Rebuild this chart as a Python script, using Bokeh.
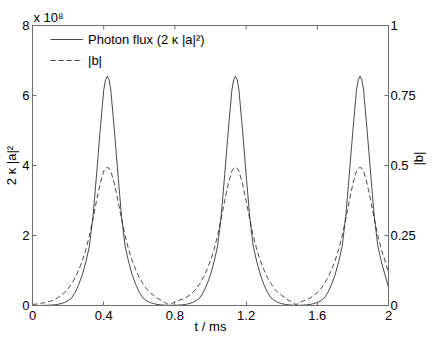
from math import pi
from bokeh.plotting import figure
from bokeh.models import (Range1d, LinearAxis, Legend, LegendItem,
                          FixedTicker, NumeralTickFormatter)
from bokeh.embed import file_html
from bokeh.resources import INLINE

# ---- data ----
t_ms = [0.00, 0.02, 0.04, 0.06, 0.08, 0.10, 0.12, 0.14, 0.16, 0.18,
        0.20, 0.22, 0.24, 0.26, 0.28, 0.30, 0.32, 0.34, 0.36, 0.38,
        0.40, 0.41, 0.42, 0.43, 0.44, 0.46, 0.48, 0.50, 0.52, 0.54,
        0.56, 0.58, 0.60, 0.62, 0.64, 0.66, 0.68, 0.70, 0.72, 0.74,
        0.76, 0.78, 0.80, 0.82, 0.84, 0.86, 0.88, 0.90, 0.92, 0.94,
        0.96, 0.98, 1.00, 1.02, 1.04, 1.06, 1.08, 1.10, 1.12, 1.13,
        1.14, 1.15, 1.16, 1.18, 1.20, 1.22, 1.24, 1.26, 1.28, 1.30,
        1.32, 1.34, 1.36, 1.38, 1.40, 1.42, 1.44, 1.46, 1.48, 1.50,
        1.52, 1.54, 1.56, 1.58, 1.60, 1.62, 1.64, 1.66, 1.68, 1.70,
        1.72, 1.74, 1.76, 1.78, 1.80, 1.82, 1.83, 1.84, 1.85, 1.86,
        1.88, 1.90, 1.92, 1.94, 1.96, 1.98, 2.00]

# photon flux 2*kappa*|a|^2 in units of 1e8
photon_flux_e8 = [0.0, 0.0, 0.001, 0.003, 0.006, 0.01, 0.018, 0.03, 0.055, 0.085,
                  0.14, 0.22, 0.38, 0.6, 0.88, 1.25, 1.7, 2.55, 3.75, 5.0,
                  6.15, 6.45, 6.55, 6.45, 6.15, 5.0, 3.75, 2.55, 1.7, 1.25,
                  0.88, 0.6, 0.38, 0.22, 0.14, 0.085, 0.055, 0.03, 0.018, 0.01,
                  0.006, 0.004, 0.006, 0.01, 0.018, 0.03, 0.055, 0.085, 0.14, 0.22,
                  0.38, 0.6, 0.88, 1.25, 1.7, 2.55, 3.75, 5.0, 6.15, 6.45,
                  6.55, 6.45, 6.15, 5.0, 3.75, 2.55, 1.7, 1.25, 0.88, 0.6,
                  0.38, 0.22, 0.14, 0.085, 0.055, 0.03, 0.018, 0.01, 0.006, 0.006,
                  0.01, 0.018, 0.03, 0.055, 0.085, 0.14, 0.22, 0.38, 0.6, 0.88,
                  1.25, 1.7, 2.55, 3.75, 5.0, 6.15, 6.45, 6.55, 6.45, 6.15,
                  5.0, 3.75, 2.55, 1.7, 1.25, 0.88, 0.52]

# |b|
b_abs = [0.004, 0.005, 0.007, 0.009, 0.012, 0.015, 0.02, 0.027, 0.036, 0.046,
         0.06, 0.078, 0.1, 0.128, 0.16, 0.2, 0.25, 0.31, 0.375, 0.435,
         0.48, 0.49, 0.493, 0.49, 0.48, 0.435, 0.375, 0.31, 0.25, 0.2,
         0.16, 0.128, 0.1, 0.078, 0.06, 0.046, 0.036, 0.027, 0.02, 0.013,
         0.005, 0.006, 0.013, 0.018, 0.022, 0.028, 0.036, 0.046, 0.06, 0.078,
         0.1, 0.128, 0.16, 0.2, 0.25, 0.31, 0.375, 0.435, 0.48, 0.49,
         0.493, 0.49, 0.48, 0.435, 0.375, 0.31, 0.25, 0.2, 0.16, 0.128,
         0.1, 0.078, 0.06, 0.046, 0.036, 0.027, 0.018, 0.012, 0.003, 0.01,
         0.016, 0.021, 0.027, 0.036, 0.046, 0.06, 0.078, 0.1, 0.128, 0.16,
         0.2, 0.25, 0.31, 0.375, 0.435, 0.48, 0.49, 0.493, 0.49, 0.48,
         0.435, 0.375, 0.31, 0.25, 0.2, 0.16, 0.118]

x_ticks = [0, 0.4, 0.8, 1.2, 1.6, 2]
left_ticks = [0, 2, 4, 6, 8]
right_ticks = [0, 0.25, 0.5, 0.75, 1]

legend_labels = ["Photon flux (2 \u03ba |a|\u00b2)", "|b|"]
x_label = "t / ms"
left_label = "2 \u03ba |a|\u00b2"
right_label = "|b|"
exponent_text = "x 10\u2078"

# ---- styling ----
FONT = "Liberation Sans"
AX = "#6e6e6e"
LINE = "#1a1a1a"
W, H = 436, 340

p = figure(width=W, height=H, x_range=Range1d(0, 2),
           y_range=Range1d(left_ticks[0], left_ticks[-1]),
           output_backend="svg", toolbar_location=None,
           min_border_left=32, min_border_right=W - 389,
           min_border_top=25, min_border_bottom=H - 305)
p.extra_y_ranges = {"b": Range1d(0, 1)}
p.xgrid.visible = False
p.ygrid.visible = False
p.outline_line_color = AX
p.outline_line_width = 1
p.background_fill_color = "white"
p.border_fill_color = "white"

p.title.text = exponent_text
p.title.align = "left"
p.title.offset = 1
p.title.standoff = 1
p.title.text_font = FONT
p.title.text_font_size = "13px"
p.title.text_font_style = "normal"
p.title.text_color = "black"


def style(ax, size="13px"):
    ax.axis_line_color = AX
    ax.major_tick_line_color = AX
    ax.major_tick_in = 4
    ax.major_tick_out = 0
    ax.minor_tick_line_color = None
    ax.major_label_text_font = FONT
    ax.major_label_text_font_size = size
    ax.major_label_text_color = "black"
    ax.major_label_standoff = 3
    ax.axis_label_text_font = FONT
    ax.axis_label_text_font_size = "13px"
    ax.axis_label_text_font_style = "normal"
    ax.axis_label_text_color = "black"


xa = p.xaxis[0]
xa.ticker = FixedTicker(ticks=x_ticks)
xa.formatter = NumeralTickFormatter(format="0.[00]")
style(xa)
xa.major_label_standoff = 5
xa.axis_label = x_label
xa.axis_label_standoff = -4

ya = p.yaxis[0]
ya.ticker = FixedTicker(ticks=left_ticks)
style(ya)
ya.axis_label = left_label
ya.axis_label_standoff = 0

ra = LinearAxis(y_range_name="b", ticker=FixedTicker(ticks=right_ticks),
                formatter=NumeralTickFormatter(format="0.[00]"))
style(ra)
ra.major_label_standoff = 2
ra.axis_label = right_label
ra.axis_label_standoff = 0
ra.axis_label_orientation = pi / 2
p.add_layout(ra, "right")

# inward ticks on the top edge (mirror of the bottom axis ticks)
p.scatter(x_ticks, [left_ticks[-1]] * len(x_ticks), marker="dash", angle=pi / 2,
          size=8, line_color=AX, line_width=1)

r1 = p.line(t_ms, photon_flux_e8, line_color=LINE, line_width=0.8)
r2 = p.line(t_ms, b_abs, y_range_name="b", line_color=LINE, line_width=0.8,
            line_dash="5 3")

leg = Legend(items=[LegendItem(label=legend_labels[0], renderers=[r1]),
                    LegendItem(label=legend_labels[1], renderers=[r2])],
             location=(18, 236), padding=0, margin=0, spacing=3,
             glyph_width=33, glyph_height=18, label_height=18,
             label_standoff=5, border_line_color=None,
             background_fill_alpha=0.0,
             label_text_font=FONT, label_text_font_size="13px",
             label_text_color="black")
p.add_layout(leg, "center")

open("out.html", "w").write(file_html(p, INLINE))
